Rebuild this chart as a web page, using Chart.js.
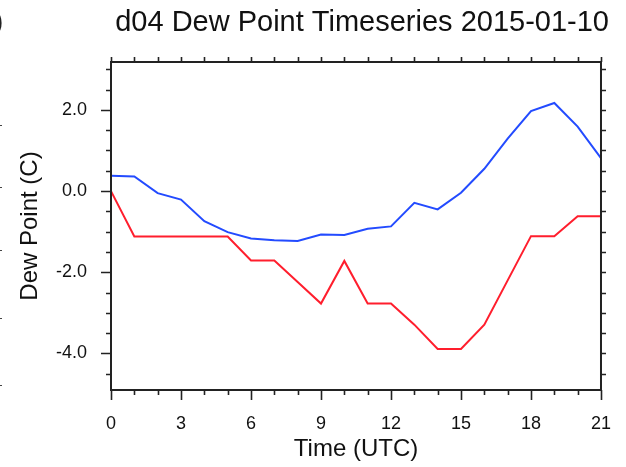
<!DOCTYPE html>
<html><head><meta charset="utf-8">
<script src="https://cdn.jsdelivr.net/npm/chart.js@4/dist/chart.umd.min.js"></script>
<style>html,body{margin:0;padding:0;background:#fff;overflow:hidden;}#wrap{width:626px;height:467px;position:relative;}</style>
</head><body><div id="wrap"><canvas id="c" width="626" height="467"></canvas></div>
<script>
// ---- data ----
const hours = [0,1,2,3,4,5,6,7,8,9,10,11,12,13,14,15,16,17,18,19,20,21];
const blueSeries = [0.38,0.36,-0.05,-0.21,-0.74,-1.01,-1.17,-1.21,-1.23,-1.07,-1.08,-0.93,-0.87,-0.29,-0.45,-0.04,0.55,1.29,1.97,2.17,1.59,0.81];
const redSeries  = [0.0,-1.12,-1.12,-1.12,-1.12,-1.12,-1.71,-1.71,-2.24,-2.77,-1.72,-2.77,-2.77,-3.29,-3.89,-3.89,-3.29,-2.2,-1.11,-1.11,-0.62,-0.62];
const xTickValues = [0,3,6,9,12,15,18,21];
const yTickValues = [-4,-2,0,2];
const titleText = 'd04 Dew Point Timeseries 2015-01-10';
const xTitle = 'Time (UTC)';
const yTitle = 'Dew Point (C)';

const FONT = "'Liberation Sans', Arial, Helvetica, sans-serif";

const framePlugin = {
  id: 'frame',
  afterDatasetsDraw(chart) {
    const ctx = chart.ctx;
    const a = chart.chartArea;
    const xs = chart.scales.x, ys = chart.scales.y;
    ctx.save();
    ctx.strokeStyle = '#222';
    ctx.lineWidth = 2;
    ctx.strokeRect(a.left, a.top, a.right - a.left, a.bottom - a.top);
    ctx.lineWidth = 1.6;
    ctx.beginPath();
    for (let v = xs.min; v <= xs.max + 1e-9; v += 1) {
      const px = Math.round(xs.getPixelForValue(v)) + 0.5;
      const major = xTickValues.includes(v);
      ctx.moveTo(px, a.bottom); ctx.lineTo(px, a.bottom + (major ? 10 : 5));
      ctx.moveTo(px, a.top); ctx.lineTo(px, a.top - 5);
    }
    const start = Math.ceil(ys.min * 2) / 2;
    for (let v = start; v <= ys.max + 1e-9; v += 0.5) {
      const py = Math.round(ys.getPixelForValue(v)) + 0.5;
      const major = yTickValues.some(t => Math.abs(t - v) < 1e-6);
      ctx.moveTo(a.left, py); ctx.lineTo(a.left - (major ? 10 : 5), py);
      ctx.moveTo(a.right, py); ctx.lineTo(a.right + 5, py);
    }
    ctx.stroke();
    // fragments of the neighbouring panel at the left edge
    ctx.strokeStyle = '#444';
    ctx.lineWidth = 1.2;
    ctx.beginPath();
    [125,187,250,318,385].forEach(y => { ctx.moveTo(0, y + 0.5); ctx.lineTo(2, y + 0.5); });
    ctx.stroke();
    ctx.fillStyle = '#222';
    ctx.textBaseline = 'middle';
    ctx.font = '28px ' + FONT;
    ctx.fillText(')', -6, 22);
    // title, right-aligned near the plot frame like the reference
    ctx.fillStyle = '#111';
    ctx.textAlign = 'right';
    ctx.font = '29px ' + FONT;
    ctx.fillText(titleText, a.right + 8, 23);
    ctx.restore();
  }
};

new Chart(document.getElementById('c'), {
  type: 'line',
  data: {
    datasets: [
      { label: 'blue', data: hours.map((h, i) => ({x: h, y: blueSeries[i]})),
        borderColor: 'rgb(35,75,255)', borderWidth: 2, pointRadius: 0, tension: 0, fill: false },
      { label: 'red', data: hours.map((h, i) => ({x: h, y: redSeries[i]})),
        borderColor: 'rgb(255,30,45)', borderWidth: 2, pointRadius: 0, tension: 0, fill: false }
    ]
  },
  options: {
    responsive: false,
    devicePixelRatio: 1,
    animation: false,
    events: [],
    layout: { padding: { left: 0, right: 13, top: 62, bottom: 0 } },
    plugins: {
      legend: { display: false },
      tooltip: { enabled: false },
      title: { display: false }
    },
    scales: {
      x: {
        type: 'linear', min: 0, max: 21,
        grid: { display: false }, border: { display: false },
        afterBuildTicks(s) { s.ticks = xTickValues.map(v => ({ value: v })); },
        afterFit(s) { s.height = 77; },
        ticks: { color: '#111', padding: 15, maxRotation: 0, autoSkip: false,
          font: { family: FONT, size: 18 }, callback: v => String(v) },
        title: { display: true, text: xTitle, color: '#111',
          font: { family: FONT, size: 24, lineHeight: 1.2 }, padding: { top: 0, bottom: 3.6 } }
      },
      y: {
        type: 'linear', min: -4.9, max: 3.18,
        grid: { display: false }, border: { display: false },
        afterBuildTicks(s) { s.ticks = yTickValues.map(v => ({ value: v })); },
        afterFit(s) { s.width = 111; },
        ticks: { color: '#111', padding: 16, autoSkip: false,
          font: { family: FONT, size: 18 }, callback: v => Number(v).toFixed(1) },
        title: { display: true, text: yTitle, color: '#111',
          font: { family: FONT, size: 24, lineHeight: 1.2 }, padding: { top: 16, bottom: 0 } }
      }
    }
  },
  plugins: [framePlugin]
});
</script>
</body></html>
